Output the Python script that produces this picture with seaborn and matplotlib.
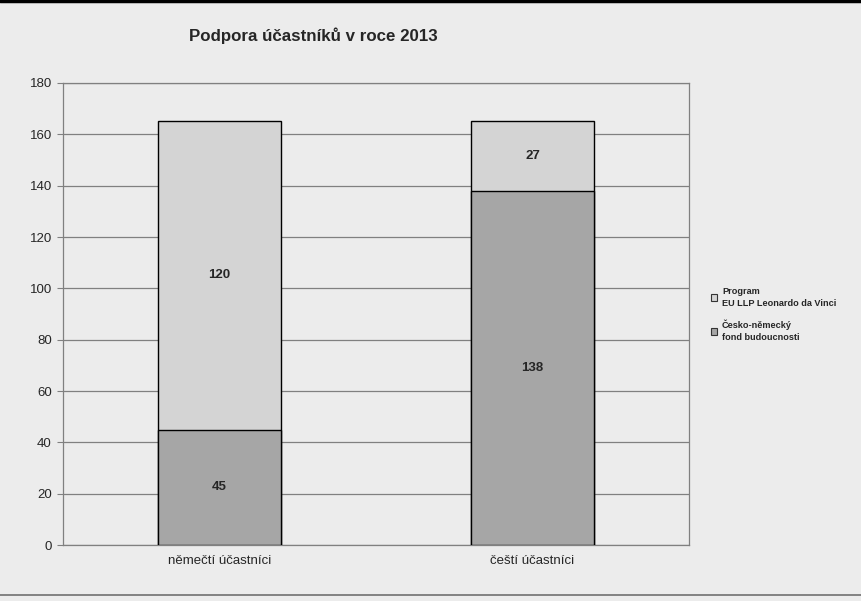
import matplotlib
matplotlib.use("Agg")
import matplotlib.pyplot as plt
import seaborn as sns
import pandas as pd
from matplotlib.patches import Patch
from matplotlib.lines import Line2D

categories = ["němečtí účastníci", "čeští účastníci"]
fond = [45, 138]
leonardo = [120, 27]
series_names = ["Program\nEU LLP Leonardo da Vinci", "Česko-německý\nfond budoucnosti"]
title = "Podpora účastníků v roce 2013"

sns.set_theme(style="white")
plt.rcParams['font.family'] = ['Liberation Sans', 'DejaVu Sans']

BG = "#ececec"
LIGHT = "#d4d4d4"
DARK = "#a6a6a6"
GRID = "#808080"

totals = [a + b for a, b in zip(fond, leonardo)]
df = pd.DataFrame({"cat": categories, "fond": fond, "leo": leonardo, "total": totals})

fig = plt.figure(figsize=(8.61, 6.01), dpi=100, facecolor=BG)
ax = fig.add_axes([63/861, 1-545/601, 626/861, 462/601])
ax.set_facecolor(BG)

sns.barplot(data=df, x="cat", y="total", color=LIGHT, width=0.395,
            edgecolor="black", linewidth=1.0, saturation=1, ax=ax, zorder=3)
sns.barplot(data=df, x="cat", y="fond", color=DARK, width=0.395,
            edgecolor="black", linewidth=1.0, saturation=1, ax=ax, zorder=3)

ax.set_xlim(-0.5, 1.5)
ax.set_ylim(0, 180)
ax.set_yticks(range(0, 181, 20))
ax.yaxis.grid(True, color=GRID, linewidth=0.9, zorder=0)
ax.set_axisbelow(True)
for s in ax.spines.values():
    s.set_color(GRID)
    s.set_linewidth(0.9)
ax.tick_params(axis="y", length=4, width=0.8, color=GRID, labelsize=9.5, pad=4, left=True)
ax.tick_params(axis="x", length=0, labelsize=9.5, pad=7)
ax.set_xlabel("")
ax.set_ylabel("")

for i in range(len(categories)):
    ax.text(i, fond[i] / 2, str(fond[i]), ha="center", va="center",
            fontsize=9.5, fontweight="bold", zorder=5)
    ax.text(i, fond[i] + leonardo[i] / 2, str(leonardo[i]), ha="center", va="center",
            fontsize=9.5, fontweight="bold", zorder=5)

fig.text(313/861, 1-36/601, title, ha="center", va="center", fontsize=12.2, fontweight="bold")

handles = [Patch(facecolor=LIGHT, edgecolor="#333333", linewidth=0.8),
           Patch(facecolor=DARK, edgecolor="#333333", linewidth=0.8)]
leg = fig.legend(handles, series_names, loc="upper left", bbox_to_anchor=(707/861, 1-283/601),
                 frameon=False, fontsize=6.6, handlelength=0.7, handleheight=0.7,
                 handletextpad=0.55, labelspacing=1.3, borderaxespad=0)
for t in leg.get_texts():
    t.set_fontweight("bold")
    t.set_linespacing(1.45)

fig.add_artist(Line2D([0, 1], [1-1/601, 1-1/601], color="black", linewidth=2.5, transform=fig.transFigure))
fig.add_artist(Line2D([0, 1], [1-595/601, 1-595/601], color="#707070", linewidth=1.2, transform=fig.transFigure))

fig.savefig("out.png", dpi=100, facecolor=BG)
